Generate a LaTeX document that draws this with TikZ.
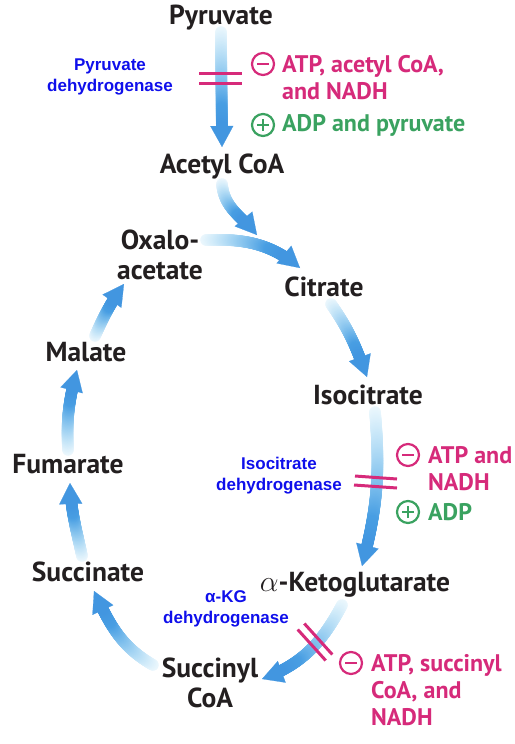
\documentclass[tikz,border=0pt]{standalone}
\usepackage{fontspec}
\setmainfont{PT Sans}
\newfontfamily\enzfont{Liberation Sans}
\usetikzlibrary{arrows.meta,decorations.markings}

\definecolor{flowend}{RGB}{66,150,224}
\definecolor{flowmid}{RGB}{100,192,238}
\definecolor{inhib}{RGB}{214,42,122}
\definecolor{activ}{RGB}{58,162,96}
\definecolor{enzblue}{RGB}{15,15,235}
\definecolor{metabblack}{RGB}{35,31,32}

\tikzset{
  metab/.style={font=\bfseries\fontsize{27.5}{29.5}\selectfont, text=metabblack,
    inner sep=0pt, text height=19pt, text depth=0pt},
  metabtwo/.style={font=\bfseries\fontsize{27.5}{29.5}\selectfont, text=metabblack,
    inner sep=0pt, align=center},
  enz/.style={font=\enzfont\bfseries\fontsize{17}{21}\selectfont, text=enzblue,
    inner sep=0pt, align=center},
  reg/.style={font=\bfseries\fontsize{24}{27}\selectfont, inner sep=0pt,
    anchor=west, align=left},
  sign/.style={circle, line width=2.2pt, minimum size=22pt, inner sep=0pt},
  minus/.style={sign, draw=inhib, path picture={
    \draw[inhib, line width=2.2pt]
      ([xshift=-6pt]path picture bounding box.center) --
      ([xshift=6pt]path picture bounding box.center);}},
  plus/.style={sign, draw=activ, path picture={
    \draw[activ, line width=2.2pt]
      ([xshift=-6pt]path picture bounding box.center) --
      ([xshift=6pt]path picture bounding box.center)
      ([yshift=-6pt]path picture bounding box.center) --
      ([yshift=6pt]path picture bounding box.center);}},
  block/.style={draw=inhib, line width=3pt},
  % shaded arrow: pale tail, full blue head
  flow/.style={draw=flowend, line width=0.2pt,
    -{Triangle[length=21pt,width=23pt]},
    postaction={decorate, decoration={markings,
      mark=between positions 0 and -19pt step 0.6pt with {%
        \pgfmathsetmacro\flowt{min(1,\pgfkeysvalueof{/pgf/decoration/mark info/distance from start}/(\pgfdecoratedpathlength-19))}%
        \pgfmathsetmacro\flowa{100*\flowt}%
        \pgfmathsetmacro\flowb{min(100,12+110*\flowt)}%
        \fill[flowend!\flowa!flowmid!\flowb!white] (0,0) circle (5.8pt);
      }}}},
}

\begin{document}
\begin{tikzpicture}[x=1pt,y=1pt]
  \useasboundingbox (0,0) rectangle (514,-744);

  % metabolites
  \node[metab] (pyr) at (221,-15) {Pyruvate};
  \node[metab] (acoa) at (222,-164) {Acetyl CoA};
  \node[metabtwo] (oxa) at (160,-255) {Oxalo-\\acetate};
  \node[metab] (cit) at (324,-287) {Citrate};
  \node[metab] (iso) at (368,-395) {Isocitrate};
  \node[metab] (akg) at (355,-582) {\scalebox{1.2}{$\alpha$}-Ketoglutarate};
  \node[metabtwo] (scoa) at (210,-683) {Succinyl\\CoA};
  \node[metab] (succ) at (88,-572) {Succinate};
  \node[metab] (fum) at (68,-464) {Fumarate};
  \node[metab] (mal) at (86,-352) {Malate};

  % enzymes
  \node[enz] (pdh) at (110,-77) {Pyruvate\\dehydrogenase};
  \node[enz] (idh) at (279,-476) {Isocitrate\\dehydrogenase};
  \node[enz] (kgdh) at (226,-609) {α-KG\\dehydrogenase};

  % arrows
  \draw[flow] ([yshift=-17pt]pyr.center) -- ([yshift=17pt]acoa.center);
  \draw[flow] ([yshift=-20pt]acoa.center) to[out=-85,in=130] ([shift={(-67,52)}]cit.center);
  \draw[flow] ([shift={(46,15)}]oxa.center) to[out=2,in=140] ([shift={(-24,19)}]cit.center);
  \draw[flow] ([shift={(7,-17)}]cit.center) to[out=-55,in=110] ([shift={(-1,18)}]iso.center);
  \draw[flow] ([shift={(7,-17)}]iso.center) to[out=-85,in=75] ([shift={(7,16)}]akg.center);
  \draw[flow] ([shift={(-13,-23)}]akg.center) to[out=-118,in=20] ([shift={(52,4)}]scoa.center);
  \draw[flow] ([shift={(-57,18)}]scoa.center) to[out=150,in=-65] ([shift={(6,-19)}]succ.center);
  \draw[flow] ([shift={(-6,16)}]succ.center) to[out=102,in=-88] ([shift={(2,-19)}]fum.center);
  \draw[flow] ([shift={(0,14)}]fum.center) to[out=93,in=-105] ([shift={(-9,-18)}]mal.center);
  \draw[flow] ([shift={(9,16)}]mal.center) to[out=66,in=-125] ([shift={(-36,-29)}]oxa.center);

  % inhibition bars
  \draw[block] (199,-73) -- (242,-73);
  \draw[block] (199,-83) -- (242,-83);
  \draw[block] (355,-476) -- (397,-479);
  \draw[block] (354,-485) -- (397,-488);
  \draw[block] (297.7,-629.5) -- (325.7,-660.5);
  \draw[block] (304.3,-623.5) -- (332.3,-654.5);

  % regulators
  \node[minus] (m1) at (263,-64) {};
  \node[reg, text=inhib] (t1) at (282,-77.5) {ATP, acetyl CoA,\\and NADH};
  \node[plus] (p1) at (263,-125) {};
  \node[reg, text=activ] (t2) at (282,-125) {ADP and pyruvate};
  \node[minus] (m2) at (408,-455) {};
  \node[reg, text=inhib] (t3) at (428,-468.5) {ATP and\\NADH};
  \node[plus] (p2) at (408,-512) {};
  \node[reg, text=activ] (t4) at (428,-512) {ADP};
  \node[minus] (m3) at (351,-663) {};
  \node[reg, text=inhib] (t5) at (371,-690) {ATP, succinyl\\CoA, and\\NADH};
\end{tikzpicture}
\end{document}
